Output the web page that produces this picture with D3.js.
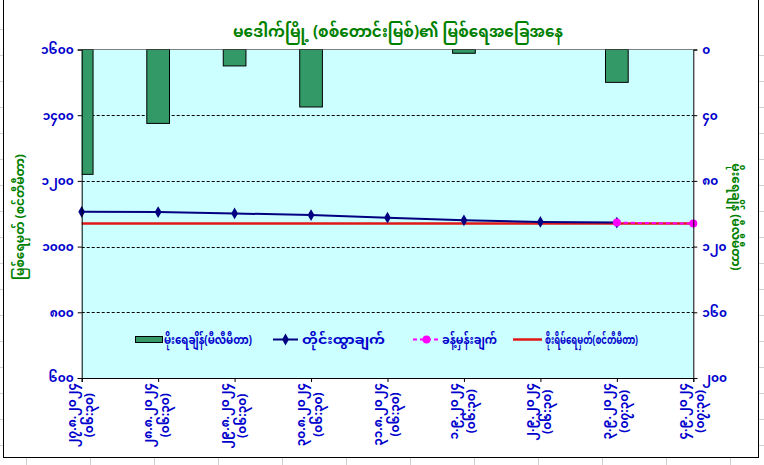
<!DOCTYPE html>
<html><head><meta charset="utf-8">
<script src="https://cdn.jsdelivr.net/npm/d3@7"></script>
<style>
body{margin:0;background:#fff;}
text{font-family:"Noto Sans Myanmar","Padauk","Myanmar Text","Noto Sans",sans-serif;}
</style>
</head><body>
<svg id="c" width="764" height="465"></svg>
<script>
// ---- data ----
const dates = ["၂၇.၈.၂၀၂၄","၂၈.၈.၂၀၂၄","၂၉.၈.၂၀၂၄","၃၀.၈.၂၀၂၄","၃၁.၈.၂၀၂၄","၁.၉.၂၀၂၄","၂.၉.၂၀၂၄","၃.၉.၂၀၂၄","၄.၉.၂၀၂၄"];
const times = ["(၀၆:၃၀)","(၀၆:၃၀)","(၀၆:၃၀)","(၀၆:၃၀)","(၀၆:၃၀)","(၀၆:၃၀)","(၀၆:၃၀)","(၀၇:၃၀)","(၀၇:၃၀)"];
const rainfall = [76, 45, 10, 35, 0, 2.3, 0, 20, 0];
const observed = [1106, 1105, 1101, 1096, 1088, 1080, 1075, 1073, null];
const forecast = [null, null, null, null, null, null, null, 1073, 1070];
const danger = [1070, 1070, 1070, 1070, 1070, 1070, 1070, 1070, 1070];
const leftTicks = [600, 800, 1000, 1200, 1400, 1600];
const leftTickLabels = ["၆၀၀","၈၀၀","၁၀၀၀","၁၂၀၀","၁၄၀၀","၁၆၀၀"];
const rightTicks = [0, 40, 80, 120, 160, 200];
const rightTickLabels = ["၀","၄၀","၈၀","၁၂၀","၁၆၀","၂၀၀"];
const title = "မဒေါက်မြို့ (စစ်တောင်းမြစ်)၏ မြစ်ရေအခြေအနေ";
const leftTitle = "မြစ်ရေမှတ် (စင်တီမီတာ)";
const rightTitle = "မိုးရေချိန် (မီလီမီတာ)";
const legendLabels = ["မိုးရေချိန်(မီလီမီတာ)","တိုင်းထွာချက်","ခန့်မှန်းချက်","စိုးရိမ်ရေမှတ်(စင်တီမီတာ)"];

// ---- layout ----
const svg = d3.select("#c");
const L = 81.7, R = 693.3, T = 49.5, B = 378;
const idx = d3.range(dates.length);
const x = d3.scalePoint().domain(idx).range([L, R]);
const y = d3.scaleLinear().domain([600, 1600]).range([B, T]);
const y2 = d3.scaleLinear().domain([0, 200]).range([T, B]);
const blue = "#0000CC", green = "#008000";

// sheet gridlines outside chart
const sheet = svg.append("g").attr("stroke", "#d0d0d0").attr("stroke-width", 1);
d3.range(29, 465, 26).forEach(v => {
  sheet.append("line").attr("x1", 0).attr("x2", 3).attr("y1", v + .5).attr("y2", v + .5);
  sheet.append("line").attr("x1", 759).attr("x2", 764).attr("y1", v + 26.5).attr("y2", v + 26.5);
});
d3.range(26, 764, 64).forEach(v => {
  sheet.append("line").attr("x1", v + .5).attr("x2", v + .5).attr("y1", 458).attr("y2", 465);
});

// chart area
svg.append("rect").attr("x", 3.5).attr("y", -0.5).attr("width", 755).attr("height", 458)
  .attr("fill", "#fff").attr("stroke", "#000").attr("stroke-width", 1);

// plot area
svg.append("rect").attr("x", L).attr("y", T).attr("width", R - L).attr("height", B - T).attr("fill", "#CCFFFF");
svg.append("defs").append("clipPath").attr("id", "pc").append("rect")
  .attr("x", L).attr("y", T).attr("width", R - L).attr("height", B - T);

// gridlines
svg.append("g").selectAll("line").data(leftTicks.filter(v => v > 600 && v < 1600)).join("line")
  .attr("x1", L).attr("x2", R).attr("y1", d => Math.round(y(d)) + .5).attr("y2", d => Math.round(y(d)) + .5)
  .attr("stroke", "#000").attr("stroke-dasharray", "3,2").attr("stroke-width", 1);
svg.append("line").attr("x1", L).attr("x2", R).attr("y1", T).attr("y2", T).attr("stroke", "#808080");

// bars (rainfall)
const bw = 22.7;
svg.append("g").attr("clip-path", "url(#pc)").selectAll("rect").data(idx.filter(i => rainfall[i] > 0)).join("rect")
  .attr("x", i => x(i) - bw / 2).attr("y", y2(0)).attr("width", bw).attr("height", i => y2(rainfall[i]) - y2(0))
  .attr("fill", "#339966").attr("stroke", "#000").attr("stroke-width", 1);

// danger line
const line = d3.line().defined(d => d[1] != null).x(d => x(d[0])).y(d => y(d[1]));
svg.append("path").datum(idx.map(i => [i, danger[i]])).attr("d", line)
  .attr("fill", "none").attr("stroke", "#E01818").attr("stroke-width", 2.5);

// observed
svg.append("path").datum(idx.map(i => [i, observed[i]])).attr("d", line)
  .attr("fill", "none").attr("stroke", "#000080").attr("stroke-width", 2);
const diamond = d3.symbol().type(d3.symbolDiamond).size(40);
svg.append("g").selectAll("path").data(idx.filter(i => observed[i] != null)).join("path")
  .attr("transform", i => `translate(${x(i)},${y(observed[i])})`).attr("d", diamond)
  .attr("fill", "#000080");

// forecast
svg.append("path").datum(idx.map(i => [i, forecast[i]])).attr("d", line)
  .attr("fill", "none").attr("stroke", "#FF00FF").attr("stroke-width", 2).attr("stroke-dasharray", "4,3");
svg.append("g").selectAll("circle").data(idx.filter(i => forecast[i] != null)).join("circle")
  .attr("cx", i => x(i)).attr("cy", i => y(forecast[i])).attr("r", 4).attr("fill", "#FF00FF");

// axes
const gl = svg.append("g").attr("transform", `translate(${L},0)`)
  .call(d3.axisLeft(y).tickValues(leftTicks).tickFormat((d, i) => leftTickLabels[i]).tickSize(4).tickPadding(4));
const gr = svg.append("g").attr("transform", `translate(${R},0)`)
  .call(d3.axisRight(y2).tickValues(rightTicks).tickFormat((d, i) => rightTickLabels[i]).tickSize(4).tickPadding(5));
const gb = svg.append("g").attr("transform", `translate(0,${B})`)
  .call(d3.axisBottom(x).tickSize(4).tickFormat(""));
[gl, gr, gb].forEach(g => {
  g.select(".domain").attr("stroke", "#000");
  g.selectAll(".tick line").attr("stroke", "#000");
  g.selectAll("text").attr("fill", blue).attr("font-size", 12).attr("font-weight", "bold")
    .style("font-family", '"Noto Sans Myanmar","Padauk","Noto Sans",sans-serif');
});

// x labels (rotated, block top aligned just below the axis, lines centred)
idx.forEach(i => {
  const g = svg.append("g").attr("transform", `translate(${x(i) - 2},383) rotate(-90)`);
  const t1 = g.append("text").attr("y", -4).attr("text-anchor", "middle").attr("fill", blue)
    .attr("font-size", 12).attr("font-weight", "bold").text(dates[i]);
  const t2 = g.append("text").attr("y", 13).attr("text-anchor", "middle").attr("fill", blue)
    .attr("font-size", 12).attr("font-weight", "bold").text(times[i]);
  const w = Math.max(t1.node().getComputedTextLength(), t2.node().getComputedTextLength());
  t1.attr("x", -w / 2);
  t2.attr("x", -w / 2);
});

// titles
svg.append("text").attr("x", 398).attr("y", 37).attr("text-anchor", "middle")
  .attr("fill", green).attr("font-size", 16).attr("font-weight", "bold")
  .attr("textLength", 330).attr("lengthAdjust", "spacingAndGlyphs").text(title);
svg.append("text").attr("transform", "translate(24,217) rotate(-90)").attr("text-anchor", "middle")
  .attr("fill", green).attr("font-size", 12).attr("font-weight", "bold").text(leftTitle);
svg.append("text").attr("transform", "translate(732,217) rotate(90)").attr("text-anchor", "middle")
  .attr("fill", green).attr("font-size", 12).attr("font-weight", "bold").text(rightTitle);

// legend
const lg = svg.append("g");
const ly = 339.5;
lg.append("rect").attr("x", 135.5).attr("y", ly - 3).attr("width", 27).attr("height", 6)
  .attr("fill", "#339966").attr("stroke", "#000");
lg.append("line").attr("x1", 273).attr("x2", 298).attr("y1", ly).attr("y2", ly).attr("stroke", "#000080").attr("stroke-width", 2);
lg.append("path").attr("transform", `translate(285.5,${ly})`).attr("d", diamond).attr("fill", "#000080");
lg.append("line").attr("x1", 413).attr("x2", 440).attr("y1", ly).attr("y2", ly).attr("stroke", "#FF00FF").attr("stroke-width", 2).attr("stroke-dasharray", "4,3");
lg.append("circle").attr("cx", 426.5).attr("cy", ly).attr("r", 4).attr("fill", "#FF00FF");
lg.append("line").attr("x1", 513).attr("x2", 542).attr("y1", ly).attr("y2", ly).attr("stroke", "#E01818").attr("stroke-width", 2.5);
const lx = [164, 302, 442, 545];
const lw = [88, 83, 55, 93];
lg.selectAll("text").data(legendLabels).join("text")
  .attr("x", (d, i) => lx[i]).attr("y", ly).attr("dy", "0.35em")
  .attr("textLength", (d, i) => lw[i]).attr("lengthAdjust", "spacingAndGlyphs")
  .attr("fill", blue).attr("font-size", 11.5).attr("font-weight", "bold").text(d => d);
</script>
</body></html>
